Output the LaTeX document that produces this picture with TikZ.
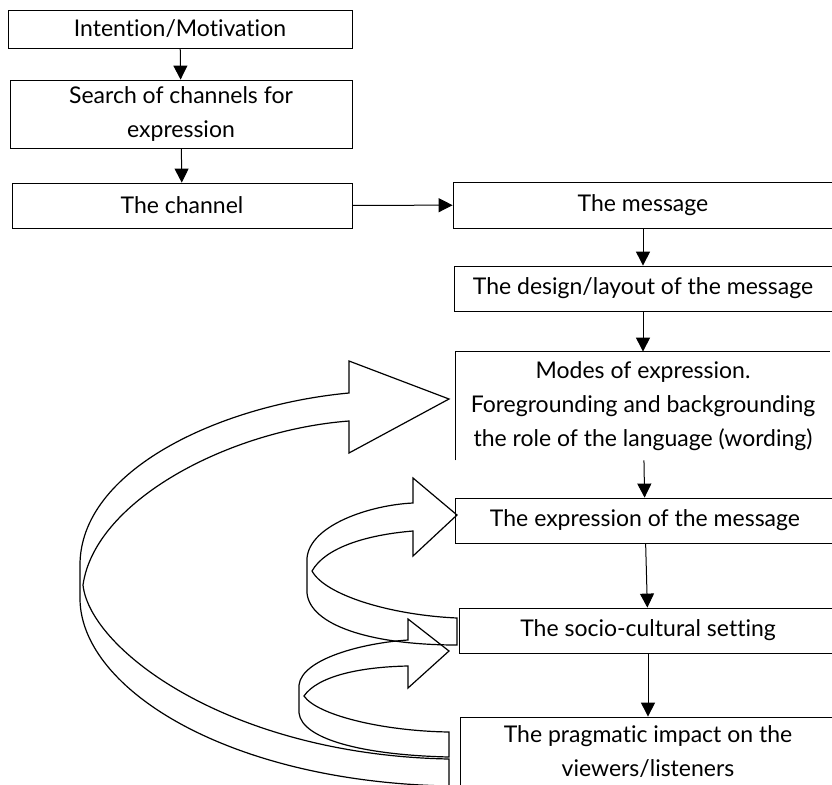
\documentclass[tikz,border=0pt]{standalone}
\usepackage{fontspec}
\setmainfont{Lato}[Ligatures=NoCommon]
\usetikzlibrary{arrows.meta}

\begin{document}
\begin{tikzpicture}[
  x=1pt, y=-1pt,
  box/.style={draw, line width=0.8pt, inner sep=0pt, align=center, font=\fontsize{23}{34}\selectfont},
  arrow/.style={-{Triangle[length=14pt,width=14pt]}, line width=1pt},
  turn/.style={draw, line width=1.2pt}
]
\useasboundingbox (0,0) rectangle (832,784);
% left column
\node (intention) [box, minimum width=344, minimum height=38] at (180,29) {Intention/Motivation};
\node (search) [box, minimum width=342, minimum height=68] at (181,114) {Search of channels for\\expression};
\node (channel) [box, minimum width=340, minimum height=45] at (182,205.5) {The channel};
% right column
\node (message) [box, minimum width=380, minimum height=46] at (643,205) {The message};
\node (design) [box, minimum width=378, minimum height=45] at (643,288.5) {The design/layout of the message};
\node (modes) [box, draw=none, minimum width=374, minimum height=108] at (643,406) {Modes of expression.\\Foregrounding and backgrounding\\the role of the language (wording)};
\draw[line width=0.8pt] (modes.south west) -- (modes.north west) -- (modes.north east);
\node (expression) [box, minimum width=380, minimum height=45] at (645,520.5) {The expression of the message};
\node (setting) [box, minimum width=378, minimum height=45] at (648,630.5) {The socio-cultural setting};
\node (impact) [box, minimum width=376, minimum height=70] at (648,752) {The pragmatic impact on the\\viewers/listeners};
\draw[arrow] (intention) -- (search);
\draw[arrow] (search) -- (channel);
\draw[arrow] (channel) -- (message);
\draw[arrow] (message) -- (design);
\draw[arrow] (design) -- (modes);
\draw[arrow] (modes) -- (expression);
\draw[arrow] (expression) -- (setting);
\draw[arrow] (setting) -- (impact);
% curved block arrows
\draw[turn] (449,759) .. controls (230,755) and (90,650) .. (83,585)
  .. controls (95,500) and (230,430) .. (349,421)
  -- (349,453) -- (449,399) -- (349,361) -- (349,393)
  .. controls (220,405) and (80,470) .. (80,565)
  -- (80,600)
  .. controls (82,690) and (230,782) .. (449,786) -- cycle;
\draw[turn] (457,618) .. controls (390,615) and (325,595) .. (312,571)
  .. controls (325,548) and (365,535) .. (413,531)
  -- (413,556) -- (457,515) -- (413,478) -- (413,503)
  .. controls (370,505) and (310,525) .. (307,558)
  -- (307,593)
  .. controls (310,625) and (370,645) .. (457,645) -- cycle;
\draw[turn] (449,732) .. controls (382,731) and (317,715) .. (304,696)
  .. controls (317,677) and (357,667) .. (408,666)
  -- (408,688) -- (449,651) -- (408,619) -- (408,640)
  .. controls (362,643) and (302,659) .. (299,685)
  -- (299,713)
  .. controls (302,739) and (362,755) .. (449,757) -- cycle;
\end{tikzpicture}
\end{document}
